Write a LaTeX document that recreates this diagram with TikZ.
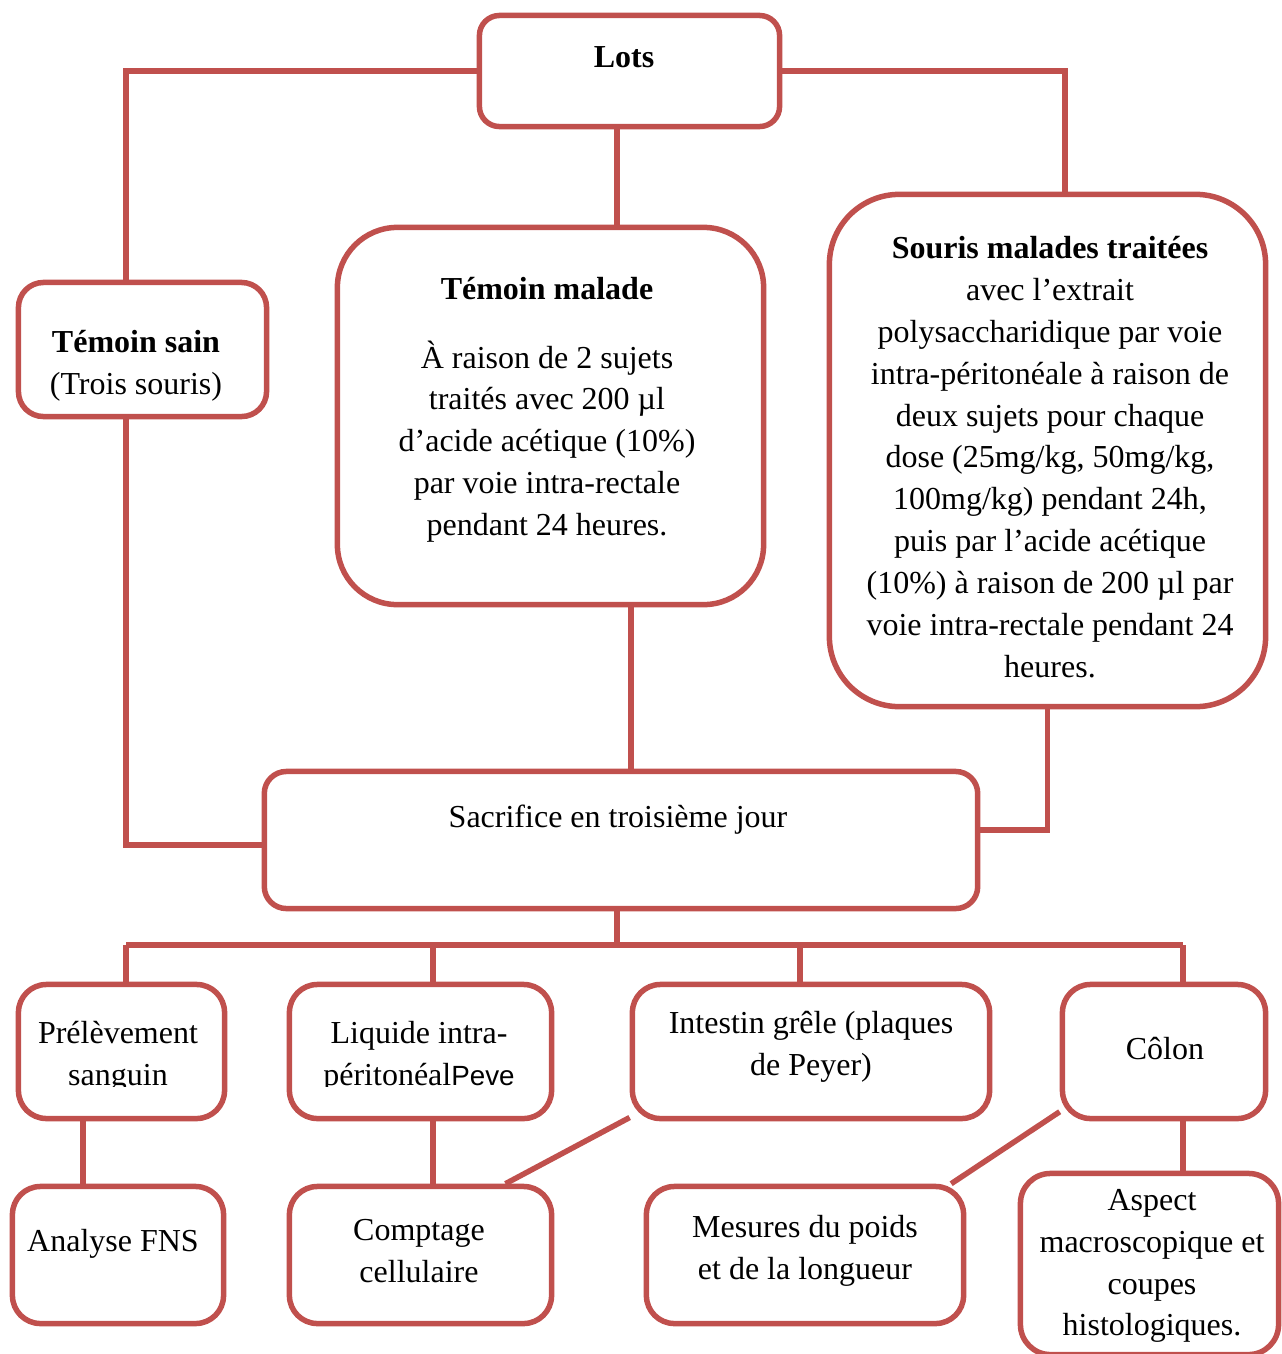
\documentclass[tikz,border=0pt]{standalone}
\usepackage{fontspec}
\setmainfont{Liberation Serif}
\setsansfont{Liberation Sans}
\usepackage{tikz}
\definecolor{lotred}{HTML}{C0504D}

\tikzset{
  lotbox/.style={draw=lotred, line width=0.055cm, rounded corners=#1, inner sep=0pt},
  lotbox/.default=0.25cm,
  txt/.style={align=center, inner sep=0pt, font=\fontsize{9.1}{11.9}\selectfont},
  link/.style={draw=lotred, line width=0.055cm}
}

\begin{document}
\begin{tikzpicture}[x=0.01cm,y=-0.01cm]
\useasboundingbox (0,0) rectangle (1281,1354);

\node[lotbox=0.2cm, minimum width=3.00cm, minimum height=1.11cm] (lots) at (629.5,71) {};
\node[lotbox, minimum width=2.48cm, minimum height=1.34cm] (sain) at (142.5,349.5) {};
\node[lotbox=0.6cm, minimum width=4.26cm, minimum height=3.77cm] (malade) at (550.5,416) {};
\node[lotbox=0.7cm, minimum width=4.36cm, minimum height=5.12cm] (souris) at (1047.5,450.5) {};
\node[lotbox=0.22cm, minimum width=7.13cm, minimum height=1.37cm] (sacr) at (621,840) {};

\node[lotbox=0.28cm, minimum width=2.06cm, minimum height=1.34cm] (prel) at (121.5,1051.5) {};
\node[lotbox=0.28cm, minimum width=2.62cm, minimum height=1.34cm] (liq) at (420.5,1051.5) {};
\node[lotbox=0.28cm, minimum width=3.57cm, minimum height=1.34cm] (intest) at (811,1051.5) {};
\node[lotbox=0.28cm, minimum width=2.03cm, minimum height=1.34cm] (colon) at (1164,1051.5) {};

\node[lotbox=0.28cm, minimum width=2.11cm, minimum height=1.37cm] (analyse) at (118,1255) {};
\node[lotbox=0.28cm, minimum width=2.62cm, minimum height=1.37cm] (compt) at (420.5,1255) {};
\node[lotbox=0.28cm, minimum width=3.17cm, minimum height=1.37cm] (mesures) at (805,1255) {};
\node[lotbox=0.3cm, minimum width=2.58cm, minimum height=1.81cm] (aspect) at (1149.5,1264) {};

\coordinate (bl) at (126,945);
\coordinate (br) at (1183,945);
\coordinate (bm) at (617,945);
\coordinate (rt) at (1065,71);
\coordinate (mc) at (631,700);

\draw[link] (lots.west) -| (sain.north -| bl);
\draw[link] (sain.south -| bl) |- ([yshift=-0.05cm]sacr.west);
\draw[link] (lots.south -| bm) -- (malade.north -| bm);
\draw[link] (lots.east) -- (rt) -- (rt |- souris.north);
\draw[link] (malade.south -| mc) -- (sacr.north -| mc);
\draw[link] (souris.south) |- ([yshift=0.1cm]sacr.east);
\draw[link] (sacr.south -| bm) -- (bm);
\draw[link] (bl) -- (br);
\draw[link] (bl) -- (prel.north -| bl);
\draw[link] (liq.north -| 433,0) -- (433,945);
\draw[link] (intest.north -| 800,0) -- (800,945);
\draw[link] (br) -- (colon.north -| br);
\draw[link] ([xshift=-0.385cm]prel.south) -- ([xshift=-0.385cm]prel.south |- analyse.north);
\draw[link] (liq.south -| 433,0) -- (compt.north -| 433,0);
\draw[link] (intest.200) -- (compt.40);
\draw[link] (colon.210) -- (mesures.26);
\draw[link] (colon.south -| br) -- (aspect.north -| br);

\node[txt, font=\fontsize{9.1}{11.9}\selectfont\bfseries] (lotsT) at (624,57) {Lots};
\node[txt] (sainT) at (136,366) {\textbf{Témoin sain}\\(Trois souris)};
\node[txt, font=\fontsize{9.1}{11.9}\selectfont\bfseries] (maladeH) at (547,289) {Témoin malade};
\node[txt] (maladeT) at (547,441.5) {À raison de 2 sujets\\traités avec 200 µl\\d’acide acétique (10\%)\\par voie intra-rectale\\pendant 24 heures.};
\node[txt] (sourisT) at (1050,457) {\textbf{Souris malades traitées}\\avec l’extrait\\polysaccharidique par voie\\intra-péritonéale à raison de\\deux sujets pour chaque\\dose (25mg/kg, 50mg/kg,\\100mg/kg) pendant 24h,\\puis par l’acide acétique\\(10\%) à raison de 200 µl par\\voie intra-rectale pendant 24\\heures.};
\node[txt] (sacrT) at (618,820) {Sacrifice en troisième jour};

\begin{scope}
\clip (0,983) rectangle (600,1086);
\node[txt] (prelT) at (118,1057) {Prélèvement\\sanguin};
\node[txt] (liqT) at (419,1057) {Liquide intra-\\péritonéal{\sffamily\fontsize{7.9}{11.9}\selectfont Peve}};
\end{scope}
\node[txt] (intestT) at (811,1047) {Intestin grêle (plaques\\de Peyer)};
\node[txt] (colonT) at (1165,1049) {Côlon};

\node[txt] (analyseT) at (113,1244) {Analyse FNS};
\node[txt] (comptT) at (419,1251) {Comptage\\cellulaire};
\node[txt] (mesuresT) at (805,1251) {Mesures du poids\\et de la longueur};
\node[txt] (aspectT) at (1152,1266) {Aspect\\macroscopique et\\coupes\\histologiques.};

\end{tikzpicture}
\end{document}
